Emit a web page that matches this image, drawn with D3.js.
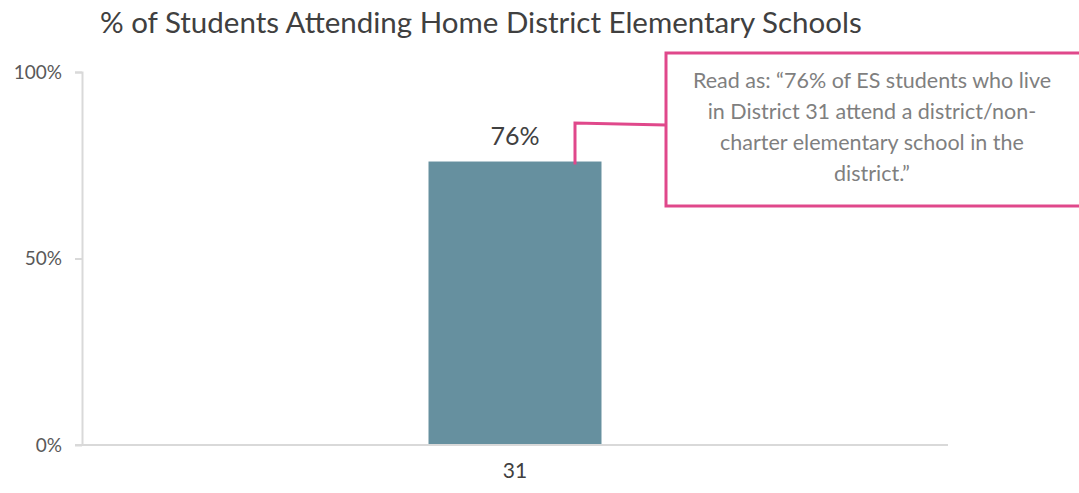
<!DOCTYPE html>
<html>
<head>
<meta charset="utf-8">
<script src="https://cdn.jsdelivr.net/npm/d3@7"></script>
<style>
  body { margin: 0; background: #fff; }
  svg { display: block; font-family: "Lato", "Open Sans", sans-serif; }
</style>
</head>
<body>
<div id="chart-area"></div>
<script>
const districts = ["31"];
const shares = [76];
const yTicks = [0, 50, 100];
const calloutLines = [
  "Read as: \u201c76% of ES students who live",
  "in District 31 attend a district/non-",
  "charter elementary school in the",
  "district.\u201d"
];

const width = 1079, height = 493;
let margin = {top: 72, right: 131, bottom: 48, left: 82};
let plotWidth = width - margin.left - margin.right;
let plotHeight = height - margin.top - margin.bottom;

const svg = d3.select("#chart-area").append("svg")
    .attr("width", width)
    .attr("height", height);

svg.append("text")
    .attr("x", 100)
    .attr("y", 33)
    .attr("fill", "#404040")
    .attr("font-size", "29.5px")
    .text("% of Students Attending Home District Elementary Schools");

const g = svg.append("g")
    .attr("transform", `translate(${margin.left},${margin.top})`);

const x = d3.scaleBand()
    .domain(districts)
    .range([0, plotWidth])
    .padding(0.667);

const y = d3.scaleLinear()
    .domain([0, 100])
    .range([plotHeight, 0]);

// y axis
const yAxis = g.append("g")
    .call(d3.axisLeft(y).tickValues(yTicks).tickSize(7).tickPadding(13)
        .tickFormat(d => d + "%"));
yAxis.select(".domain").attr("stroke", "#d9d9d9").attr("stroke-width", 2)
    .attr("d", `M-7,0.5H0.5V${plotHeight}`);
yAxis.selectAll(".tick line").attr("stroke", "#d9d9d9").attr("stroke-width", 2);
yAxis.selectAll(".tick text")
    .attr("fill", "#595959")
    .attr("font-size", "19px")
    .attr("font-family", "Lato, sans-serif");

// bars
g.selectAll(".bar")
    .data(shares)
    .enter().append("rect")
    .attr("class", "bar")
    .attr("x", (d, i) => x(districts[i]))
    .attr("y", d => y(d))
    .attr("width", x.bandwidth())
    .attr("height", d => plotHeight - y(d))
    .attr("fill", "#66909f");

// x axis
const xAxis = g.append("g")
    .attr("transform", `translate(0,${plotHeight})`)
    .call(d3.axisBottom(x).tickSize(0).tickPadding(18));
xAxis.select(".domain").attr("stroke", "#d9d9d9").attr("stroke-width", 2)
    .attr("d", `M-7,0H${plotWidth}`);
xAxis.selectAll(".tick text")
    .attr("fill", "#404040")
    .attr("font-size", "21px")
    .attr("font-family", "Lato, sans-serif");

// value labels
g.selectAll(".value")
    .data(shares)
    .enter().append("text")
    .attr("x", (d, i) => x(districts[i]) + x.bandwidth() / 2)
    .attr("y", d => y(d) - 17)
    .attr("text-anchor", "middle")
    .attr("fill", "#404040")
    .attr("font-size", "25px")
    .text(d => d + "%");

// callout
const pink = "#e0488b";
const box = {x: 666, y: 53, w: 430, h: 153};
const barTopY = margin.top + y(shares[0]);
const anchorX = 575;

svg.append("path")
    .attr("d", `M${anchorX},${barTopY + 3}V123L${box.x},125`)
    .attr("fill", "none")
    .attr("stroke", pink)
    .attr("stroke-width", 3);

svg.append("rect")
    .attr("x", box.x)
    .attr("y", box.y)
    .attr("width", box.w)
    .attr("height", box.h)
    .attr("fill", "#fff")
    .attr("stroke", pink)
    .attr("stroke-width", 3);

svg.append("g").selectAll("text")
    .data(calloutLines)
    .enter().append("text")
    .attr("x", 872)
    .attr("y", (d, i) => 88 + i * 31)
    .attr("text-anchor", "middle")
    .attr("fill", "#7f7f7f")
    .attr("font-size", "21.5px")
    .text(d => d);
</script>
</body>
</html>
